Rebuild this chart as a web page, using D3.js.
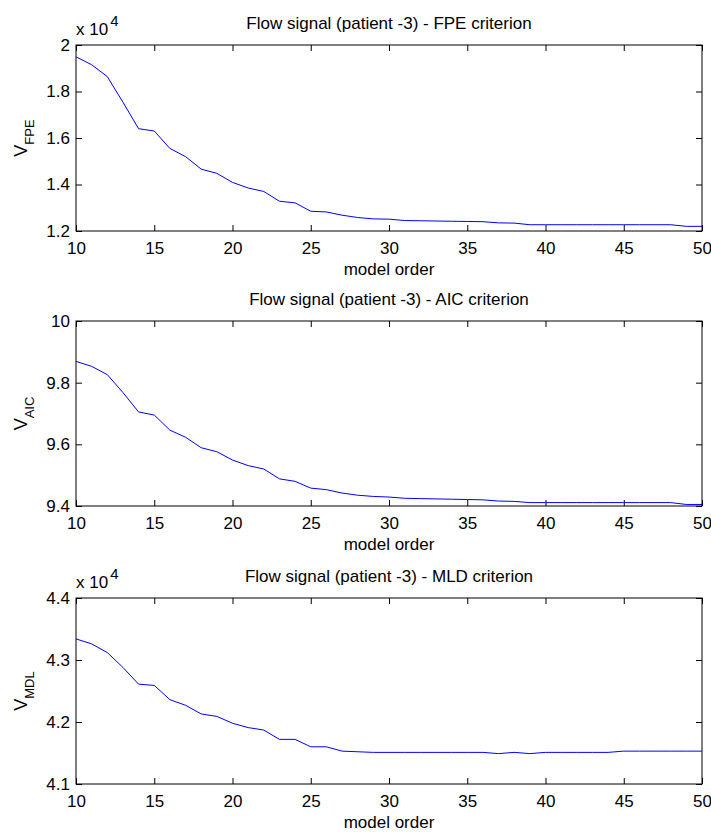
<!DOCTYPE html>
<html>
<head>
<meta charset="utf-8">
<script src="https://d3js.org/d3.v7.min.js"></script>
<style>
  body { margin: 0; background: #fff; }
  text { font-family: "Liberation Sans", Arial, sans-serif; fill: #000; }
</style>
</head>
<body>
<div id="chart"></div>
<script>
// model orders on the x axis
var orders = [10,11,12,13,14,15,16,17,18,19,20,21,22,23,24,25,26,27,28,29,30,
              31,32,33,34,35,36,37,38,39,40,41,42,43,44,45,46,47,48,49,50];

// criterion values
var fpeValues = [19490,19150,18640,17540,16400,16300,15550,15200,14660,14480,14090,
                 13850,13700,13280,13210,12850,12820,12680,12580,12520,12510,
                 12450,12440,12430,12420,12410,12400,12350,12340,12270,12270,
                 12270,12270,12270,12270,12270,12270,12270,12270,12200,12200];
var aicValues = [9.869,9.853,9.826,9.768,9.705,9.695,9.646,9.623,9.589,9.576,9.549,
                 9.531,9.520,9.488,9.480,9.458,9.453,9.442,9.435,9.431,9.429,
                 9.425,9.424,9.423,9.422,9.421,9.420,9.416,9.415,9.411,9.411,
                 9.411,9.411,9.411,9.411,9.411,9.411,9.411,9.411,9.405,9.405];
var mdlValues = [43340,43260,43120,42880,42610,42590,42360,42270,42130,42090,41980,
                 41910,41870,41720,41720,41600,41600,41530,41520,41510,41510,
                 41510,41510,41510,41510,41510,41510,41490,41510,41490,41510,
                 41510,41510,41510,41510,41530,41530,41530,41530,41530,41530];

var xTicks = [10,15,20,25,30,35,40,45,50];
var fpeTicks = [12000,14000,16000,18000,20000];
var aicTicks = [9.4,9.6,9.8,10];
var mdlTicks = [41000,42000,43000,44000];

var titles = ["Flow signal (patient -3) - FPE criterion",
              "Flow signal (patient -3) - AIC criterion",
              "Flow signal (patient -3) - MLD criterion"];
var subLabels = ["FPE", "AIC", "MDL"];

var W = 711, H = 832;
var left = 76, right = 702;

var svg = d3.select("#chart").append("svg")
    .attr("width", W).attr("height", H);
svg.append("rect").attr("width", W).attr("height", H).attr("fill", "#fff");

var panels = [
  {top: 45,  bottom: 231, values: fpeValues, ticks: fpeTicks, domain: [12000,20000], scale10: true},
  {top: 321, bottom: 506, values: aicValues, ticks: aicTicks, domain: [9.4,10],      scale10: false},
  {top: 598, bottom: 784, values: mdlValues, ticks: mdlTicks, domain: [41000,44000], scale10: true}
];

var x = d3.scaleLinear().domain([10, 50]).range([left, right]);

panels.forEach(function(p, i) {
  var y = d3.scaleLinear().domain(p.domain).range([p.bottom, p.top]);
  var g = svg.append("g");
  var fmt = p.scale10 ? function(d){ return d3.format("")(+(d/1e4).toFixed(1)); }
                      : function(d){ return d3.format("")(+d.toFixed(1)); };

  // bottom axis, ticks pointing in
  var xb = g.append("g").attr("transform", "translate(0," + p.bottom + ")")
    .call(d3.axisBottom(x).tickValues(xTicks).tickSizeInner(-6).tickSizeOuter(0).tickPadding(8));
  var xt = g.append("g").attr("transform", "translate(0," + p.top + ")")
    .call(d3.axisTop(x).tickValues(xTicks).tickSizeInner(-6).tickSizeOuter(0).tickFormat(""));
  var yl = g.append("g").attr("transform", "translate(" + left + ",0)")
    .call(d3.axisLeft(y).tickValues(p.ticks).tickSizeInner(-6).tickSizeOuter(0).tickPadding(6).tickFormat(fmt));
  var yr = g.append("g").attr("transform", "translate(" + right + ",0)")
    .call(d3.axisRight(y).tickValues(p.ticks).tickSizeInner(-6).tickSizeOuter(0).tickFormat(""));

  g.selectAll(".domain").remove();
  g.selectAll(".tick line").attr("stroke", "#000");
  g.selectAll(".tick text").style("font-size", "17px").attr("fill", "#000");
  xb.selectAll(".tick text").attr("dy", null).attr("y", 23);

  // box
  g.append("rect")
    .attr("x", left).attr("y", p.top)
    .attr("width", right - left).attr("height", p.bottom - p.top)
    .attr("fill", "none").attr("stroke", "#000").attr("stroke-width", 1);

  // data line
  var line = d3.line()
    .x(function(d, j){ return x(orders[j]); })
    .y(function(d){ return y(d); });
  g.append("path").datum(p.values)
    .attr("d", line)
    .attr("fill", "none")
    .attr("stroke", "#0000ff")
    .attr("stroke-width", 1);

  // title
  g.append("text")
    .attr("x", (left + right) / 2).attr("y", p.top - 16)
    .attr("text-anchor", "middle").style("font-size", "17px")
    .text(titles[i]);

  // x label
  g.append("text")
    .attr("x", (left + right) / 2).attr("y", p.bottom + 44)
    .attr("text-anchor", "middle").style("font-size", "17px")
    .text("model order");

  // y label with subscript
  var yt = g.append("text")
    .attr("transform", "translate(27," + ((p.top + p.bottom) / 2) + ") rotate(-90)")
    .attr("text-anchor", "middle").style("font-size", "18px");
  yt.append("tspan").text("V");
  yt.append("tspan").attr("dy", 7).style("font-size", "13px").text(subLabels[i]);

  // exponent label
  if (p.scale10) {
    var ex = g.append("text").attr("x", left).attr("y", p.top - 10).style("font-size", "17px");
    ex.append("tspan").text("x 10");
    ex.append("tspan").attr("dy", -9).attr("dx", 2).style("font-size", "15px").text("4");
  }
});
</script>
</body>
</html>
